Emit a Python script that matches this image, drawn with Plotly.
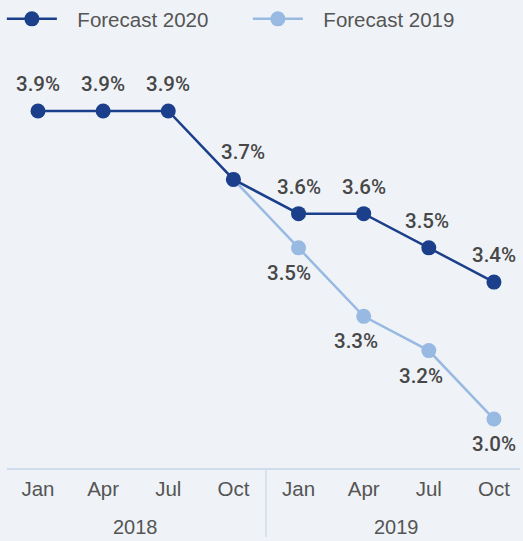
import plotly.graph_objects as go

months = ["Jan", "Apr", "Jul", "Oct", "Jan", "Apr", "Jul", "Oct"]
years = ["2018", "2019"]
forecast_2020 = [3.9, 3.9, 3.9, 3.7, 3.6, 3.6, 3.5, 3.4]
forecast_2019 = [None, None, None, 3.7, 3.5, 3.3, 3.2, 3.0]

xs = list(range(len(months)))
navy = "#1b3f8a"
light = "#98b9e2"
txt = "#555555"
lbl = "#474747"
font = "Liberation Sans, Arial, sans-serif"
lblfont = "Roboto, Liberation Sans, sans-serif"
pad = "\u00a0\u00a0\u2009"  # gap between legend symbol and text

def fmt(v):
    return f"{v:.1f}%"

fig = go.Figure()
fig.add_trace(go.Scatter(
    x=xs, y=forecast_2019, name=pad + "Forecast 2019", mode="lines+markers",
    line=dict(color=light, width=2.5), marker=dict(size=15, color=light),
    legendrank=2,
))
fig.add_trace(go.Scatter(
    x=xs, y=forecast_2020, name=pad + "Forecast 2020", mode="lines+markers",
    line=dict(color=navy, width=2.5), marker=dict(size=15, color=navy),
    legendrank=1,
))

# data labels (2020 above, 2019 below; shared Oct-2018 point labelled once)
shift20 = [0, 0, 0, 10, 0, 0, -2, 0]
for i, v in enumerate(forecast_2020):
    fig.add_annotation(x=xs[i], y=v, text=fmt(v), showarrow=False,
                       yanchor="middle", yshift=27, xshift=shift20[i],
                       font=dict(size=20.5, color=lbl, family=lblfont, weight=500))
shift19 = [0, 0, 0, 0, -10, -8, -8, 0]
for i, v in enumerate(forecast_2019):
    if v is None or v == forecast_2020[i]:
        continue
    fig.add_annotation(x=xs[i], y=v, text=fmt(v), showarrow=False,
                       yanchor="middle", yshift=-25, xshift=shift19[i],
                       font=dict(size=20.5, color=lbl, family=lblfont, weight=500))

# year labels and divider
n = len(months) // len(years)
for i, yr in enumerate(years):
    fig.add_annotation(x=i * n + (n - 1) / 2, y=-0.141, xref="x", yref="paper",
                       yanchor="middle", text=yr, showarrow=False,
                       font=dict(size=20, color=txt, family=font))
for i in range(1, len(years)):
    fig.add_shape(type="line", x0=i * n - 0.5, x1=i * n - 0.5, xref="x",
                  y0=0, y1=-0.165, yref="paper",
                  line=dict(color="#cfdcec", width=1.5))

fig.update_layout(
    width=523, height=541,
    margin=dict(l=7, r=3, t=50, b=73, autoexpand=False),
    paper_bgcolor="#eff3f7", plot_bgcolor="#eff3f7",
    font=dict(family=font, color=txt, size=20),
    showlegend=True,
    legend=dict(orientation="h", x=-0.01, y=1.122, xanchor="left", yanchor="top",
                font=dict(size=20.5, color=txt, family=font),
                itemwidth=50, entrywidth=181, entrywidthmode="pixels",
                bgcolor="rgba(0,0,0,0)"),
    xaxis=dict(range=[-0.476, 7.4], tickmode="array", tickvals=xs, ticktext=months,
               showgrid=False, zeroline=False, showline=True,
               linecolor="#cfdcec", linewidth=2, ticks="", ticklabelstandoff=1,
               tickfont=dict(size=20.5, color=txt, family=font)),
    yaxis=dict(range=[2.857, 4.078], visible=False, showgrid=False),
)

fig.write_html("out.html")
